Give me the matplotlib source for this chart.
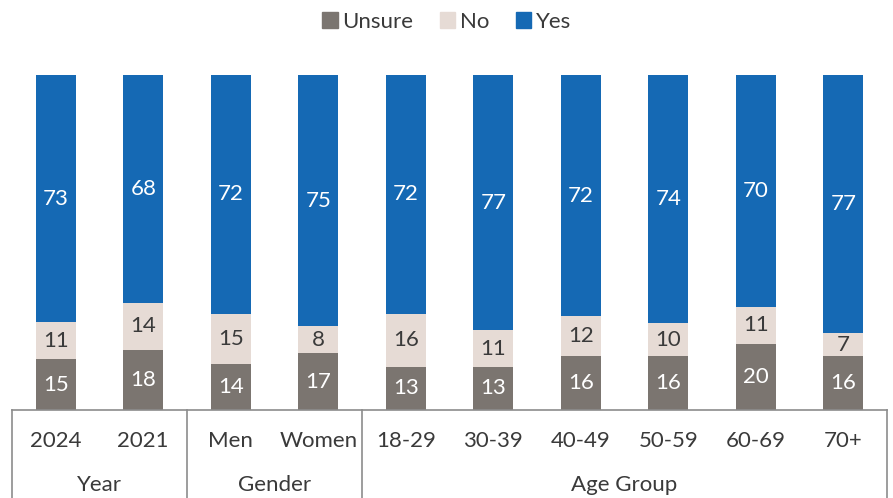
import numpy as np
import matplotlib
matplotlib.use("Agg")
import matplotlib.pyplot as plt
from matplotlib.patches import Patch

plt.rcParams['font.family'] = ['Lato', 'DejaVu Sans']

categories = ["2024", "2021", "Men", "Women", "18-29", "30-39", "40-49", "50-59", "60-69", "70+"]
groups = ["Year", "Gender", "Age Group"]
group_sizes = [2, 2, 6]

unsure = [15, 18, 14, 17, 13, 13, 16, 16, 20, 16]
no = [11, 14, 15, 8, 16, 11, 12, 10, 11, 7]
yes = [73, 68, 72, 75, 72, 77, 72, 74, 70, 77]

c_unsure = "#7b7570"
c_no = "#e6dbd5"
c_yes = "#1569b4"
c_text = "#3a3a3a"

u = np.array(unsure, float)
n = np.array(no, float)
y = np.array(yes, float)
tot = u + n + y
# 100% stacked
up = u / tot * 100
npct = n / tot * 100
yp = y / tot * 100

fig = plt.figure(figsize=(8.93, 4.98), dpi=100)
ax = fig.add_axes([12 / 893, 88 / 498, 875 / 893, 335 / 498])

x = np.arange(len(categories))
w = 0.46
ax.bar(x, up, w, color=c_unsure)
ax.bar(x, npct, w, bottom=up, color=c_no)
ax.bar(x, yp, w, bottom=up + npct, color=c_yes)

fs = 16
for i in range(len(x)):
    ax.text(x[i], up[i] / 2, str(unsure[i]), ha="center", va="center", color="white", fontsize=fs)
    ax.text(x[i], up[i] + npct[i] / 2, str(no[i]), ha="center", va="center", color=c_text, fontsize=fs)
    ax.text(x[i], up[i] + npct[i] + yp[i] / 2, str(yes[i]), ha="center", va="center", color="white", fontsize=fs)

ax.set_xlim(-0.5, len(x) - 0.5)
ax.set_ylim(0, 100)
for s in ["top", "right", "left"]:
    ax.spines[s].set_visible(False)
ax.spines["bottom"].set_color("#8c8c8c")
ax.spines["bottom"].set_linewidth(1.2)
ax.set_yticks([])
ax.set_xticks([])

# two-level category axis
trans = ax.get_xaxis_transform()
for i, c in enumerate(categories):
    ax.text(x[i], -0.092, c, transform=trans, ha="center", va="center", fontsize=fs, color=c_text)

edges = np.concatenate([[0], np.cumsum(group_sizes)]) - 0.5
for e in edges:
    ax.plot([e, e], [0, -0.27], transform=trans, color="#8c8c8c", lw=1.2, clip_on=False)
for g, a, b in zip(groups, edges[:-1], edges[1:]):
    ax.text((a + b) / 2, -0.225, g, transform=trans, ha="center", va="center", fontsize=fs, color=c_text)

handles = [Patch(color=c_unsure, label="Unsure"), Patch(color=c_no, label="No"), Patch(color=c_yes, label="Yes")]
fig.legend(handles=handles, loc="center", bbox_to_anchor=(0.5, 1 - 22 / 498), ncol=3, frameon=False,
           fontsize=fs, handlelength=0.7, handleheight=0.7, handletextpad=0.2, columnspacing=1.2,
           labelcolor=c_text)

fig.savefig("out.png", dpi=100)
